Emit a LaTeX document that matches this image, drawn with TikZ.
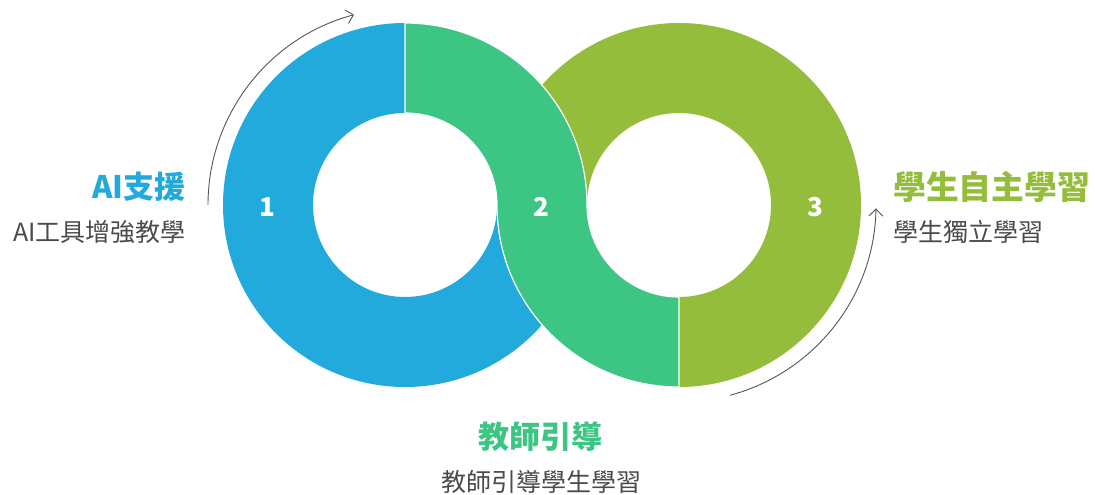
\documentclass[tikz,border=0pt]{standalone}
\usepackage{fontspec}
\newfontfamily\cjk{Noto Sans CJK TC}
\usetikzlibrary{arrows.meta}
\definecolor{cblue}{HTML}{21AADB}
\definecolor{cgreen}{HTML}{3DC583}
\definecolor{colive}{HTML}{93BD3B}
\definecolor{ctext}{HTML}{4A4A4A}
\definecolor{cline}{HTML}{555555}
\tikzset{
  seg/.style={draw=white,line width=1.2pt,line join=round},
  numlbl/.style={text=white,inner sep=0,font=\cjk\bfseries\fontsize{26}{26}\selectfont},
  titlelbl/.style={inner sep=0,font=\cjk\bfseries\fontsize{31}{31}\selectfont},
  sublbl/.style={inner sep=0,text=ctext,font=\cjk\fontsize{25}{25}\selectfont},
  flowarc/.style={draw=cline,line width=0.9pt,-{Straight Barb[length=7pt,width=14pt,line width=0.9pt]}}
}
\begin{document}
\begin{tikzpicture}[x=1pt,y=1pt]
\useasboundingbox (0,0) rectangle (1095,495);
\coordinate (L) at (405,290);
\coordinate (R) at (679,290);
% blue ring part
\fill[cblue] ([shift={(L)}]90:182) arc[start angle=90,end angle=360,radius=182]
  -- ([shift={(L)}]0:92) arc[start angle=360,end angle=90,radius=92] -- cycle;
% olive ring part
\fill[colive] ([shift={(R)}]-90:182) arc[start angle=-90,end angle=180,radius=182]
  -- ([shift={(R)}]180:92) arc[start angle=180,end angle=-90,radius=92] -- cycle;
% green S band
\path[seg,fill=cgreen] ([shift={(L)}]90:182) arc[start angle=90,end angle=0,radius=182]
  arc[start angle=180,end angle=270,radius=92]
  -- ([shift={(R)}]270:182) arc[start angle=270,end angle=180,radius=182]
  arc[start angle=0,end angle=90,radius=92] -- cycle;
% numbers
\node[numlbl] (n1) at (267,288) {1};
\node[numlbl] (n2) at (541,288) {2};
\node[numlbl] (n3) at (815,288) {3};
% arrows
\coordinate (la) at ([shift={(L)}]180:197);
\coordinate (ra) at ([shift={(R)}]-75:197);
\draw[flowarc] (la) arc[start angle=180,end angle=105,radius=197];
\draw[flowarc] (ra) arc[start angle=-75,end angle=-1,radius=197];
% labels
\node[titlelbl,text=cblue,anchor=east] (t1) at (186,308) {AI支援};
\node[sublbl,anchor=east] (s1) at (186,263) {AI工具增強教學};
\node[titlelbl,text=colive,anchor=west,font=\cjk\bfseries\fontsize{32.8}{33}\selectfont] (t3) at (893,308) {學生自主學習};
\node[sublbl,anchor=west] (s3) at (893,263) {學生獨立學習};
\node[titlelbl,text=cgreen] (t2) at (540,58) {教師引導};
\node[sublbl] (s2) at (541,13) {教師引導學生學習};
\end{tikzpicture}
\end{document}
